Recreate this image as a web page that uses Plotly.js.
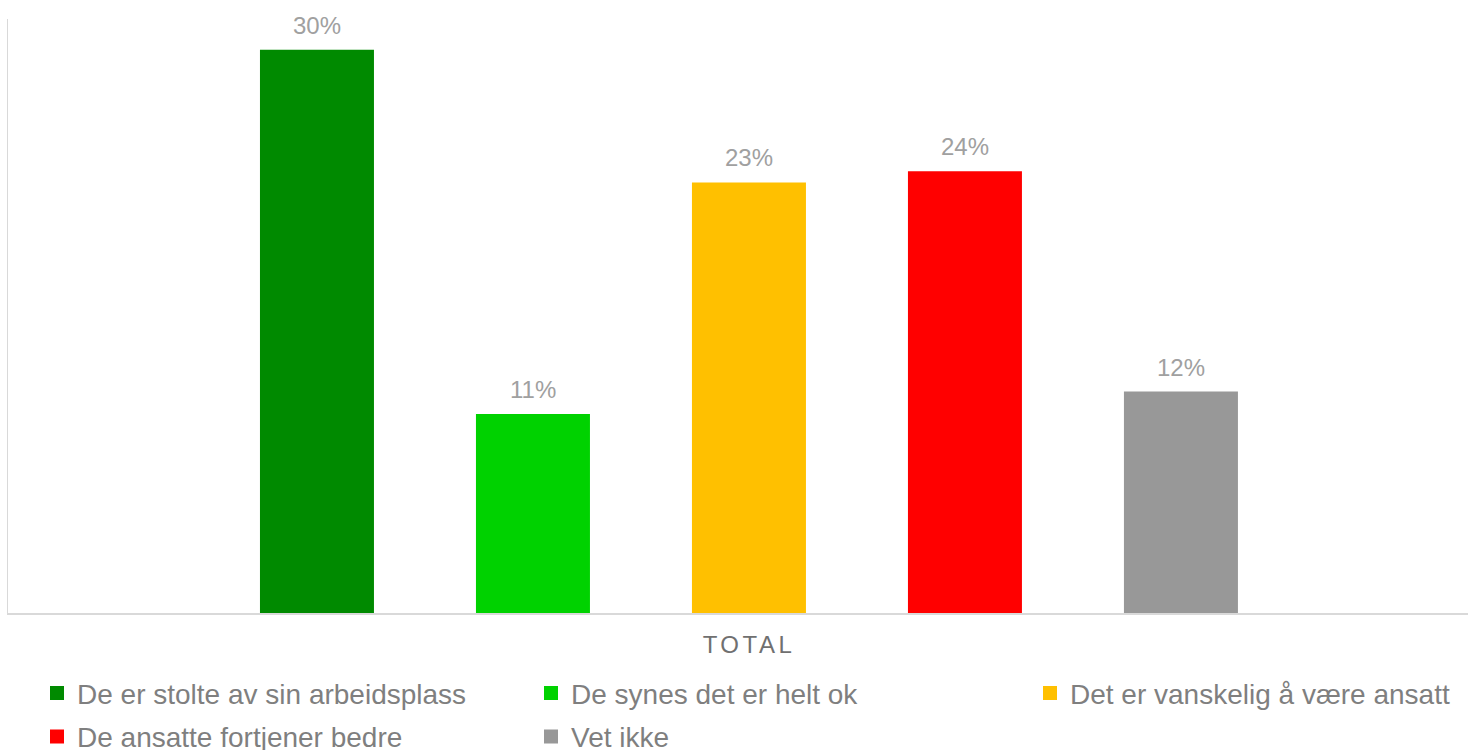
<!DOCTYPE html>
<html>
<head>
<meta charset="utf-8">
<script src="https://cdn.plot.ly/plotly-3.0.1.min.js"></script>
<style>
  html, body { margin: 0; padding: 0; background: #ffffff; }
  #chart { width: 1470px; height: 750px; }
  .xtick text { letter-spacing: 3.5px; }
</style>
</head>
<body>
<div id="chart"></div>
<script>
// Data
const categories = ['TOTAL'];
const seriesNames = [
  'De er stolte av sin arbeidsplass',
  'De synes det er helt ok',
  'Det er vanskelig å være ansatt',
  'De ansatte fortjener bedre',
  'Vet ikke'
];
const seriesValues = [0.301, 0.106, 0.230, 0.236, 0.118];
const seriesColors = ['#008a00', '#00d200', '#ffc000', '#ff0000', '#989898'];
// legend column each series is listed in (reference uses 3 columns, row-major)
const legendColumns = ['legend', 'legend2', 'legend3', 'legend', 'legend2'];

const bargap = 0.2603;
const bargroupgap = 0.4815;
const nSeries = seriesNames.length;
const slot = (1 - bargap) / nSeries;
const FONT = 'Liberation Sans, Arial, sans-serif';

const traces = seriesNames.map((name, i) => ({
  type: 'bar',
  name: name,
  x: categories,
  y: [seriesValues[i]],
  marker: { color: seriesColors[i], line: { color: seriesColors[i], width: 2 } },
  legend: legendColumns[i],
  legendgroup: 'g' + i,
  hoverinfo: 'none'
}));

const annotations = seriesValues.map((v, i) => ({
  xref: 'x', yref: 'y',
  x: (i - (nSeries - 1) / 2) * slot,
  y: v,
  text: Math.round(v * 100) + '%',
  showarrow: false,
  yanchor: 'bottom',
  yshift: 10,
  font: { family: FONT, size: 24, color: '#a0a0a0' }
}));

function legendAt(x) {
  return {
    orientation: 'v',
    x: x,
    xanchor: 'left',
    xref: 'paper',
    y: -0.0933,
    yanchor: 'top',
    yref: 'paper',
    tracegroupgap: 4,
    font: { family: FONT, size: 28, color: '#7f7f7f' },
    bgcolor: 'rgba(0,0,0,0)',
    traceorder: 'grouped'
  };
}

const layout = {
  width: 1470,
  height: 750,
  paper_bgcolor: '#ffffff',
  plot_bgcolor: '#ffffff',
  font: { family: FONT, color: '#7f7f7f' },
  margin: { l: 8, r: 2, t: 19, b: 137, autoexpand: false },
  barmode: 'group',
  bargap: bargap,
  bargroupgap: bargroupgap,
  showlegend: true,
  xaxis: {
    type: 'category',
    range: [-0.5075, 0.4925],
    showline: true,
    linecolor: '#d9d9d9',
    linewidth: 1.5,
    showgrid: false,
    zeroline: false,
    ticks: '',
    ticklabelstandoff: 10,
    tickfont: { family: FONT, size: 24, color: '#707070' },
    fixedrange: true
  },
  yaxis: {
    range: [0, 0.318],
    showline: true,
    linecolor: '#d9d9d9',
    linewidth: 1.5,
    showgrid: false,
    zeroline: false,
    showticklabels: false,
    ticks: '',
    fixedrange: true
  },
  legend: legendAt((37 - 8) / 1460),
  legend2: legendAt((531 - 8) / 1460),
  legend3: legendAt((1030 - 8) / 1460),
  annotations: annotations
};

Plotly.newPlot('chart', traces, layout, { displayModeBar: false, staticPlot: true });
</script>
</body>
</html>
